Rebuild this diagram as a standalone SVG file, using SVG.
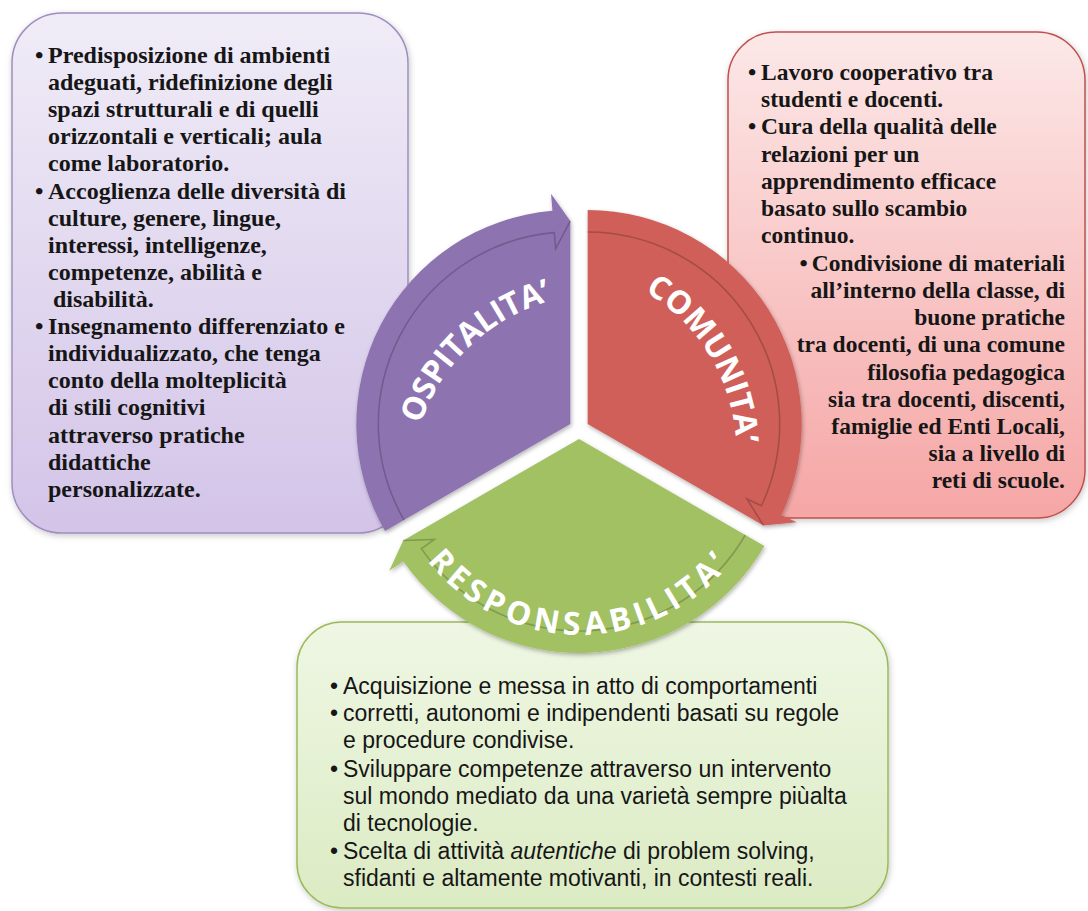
<svg xmlns="http://www.w3.org/2000/svg" width="1088" height="911" viewBox="0 0 1088 911">
<defs>
<style>
.bt{font-family:"Liberation Serif","Times New Roman",serif;font-weight:bold;font-size:24px;fill:#161616}
.rt{font-family:"Liberation Serif","Times New Roman",serif;font-weight:bold;font-size:23.5px;fill:#161616}
.gt{font-family:"Liberation Sans",Arial,sans-serif;font-size:23px;fill:#161616}
.lab{font-family:"Open Sans","DejaVu Sans",sans-serif;font-weight:bold;font-size:32px;fill:#ffffff}
.band{fill:none;stroke:#000;stroke-opacity:0.2;stroke-width:1.6}
</style>
<linearGradient id="gP" x1="0" y1="0" x2="0" y2="1"><stop offset="0" stop-color="#F0ECF7"/><stop offset="1" stop-color="#D3C4E8"/></linearGradient>
<linearGradient id="gR" x1="0" y1="0" x2="0" y2="1"><stop offset="0" stop-color="#FCE8E8"/><stop offset="1" stop-color="#F5A6A5"/></linearGradient>
<linearGradient id="gG" x1="0" y1="0" x2="0" y2="1"><stop offset="0" stop-color="#EFF7E4"/><stop offset="1" stop-color="#DBEBC3"/></linearGradient>
<filter id="bsh" x="-10%" y="-10%" width="120%" height="120%"><feDropShadow dx="1" dy="2" stdDeviation="3" flood-color="#000" flood-opacity="0.22"/></filter>
<filter id="ssh" x="-10%" y="-10%" width="120%" height="120%"><feDropShadow dx="1" dy="2" stdDeviation="2" flood-color="#000" flood-opacity="0.3"/></filter>
<path id="sector" d="M0,0 L-185.33,107 A214,214 0 0 1 -17.91,-213.25 L-19.33,-230.19 L0,-203 Z"/>
<path id="bandline" d="M-166.28,96 A192,192 0 0 1 -16.07,-191.33 L-14.73,-175.38 L0,-203"/>
<path id="pP" d="M412.6,459.2 A190,190 0 0 1 586.1,294.6"/>
<path id="pR" d="M614.3,277.2 A185,185 0 0 1 734.2,476.7"/>
<path id="pG" d="M412,538 A194,194 0 0 0 748,538"/>
</defs>
<rect width="1088" height="911" fill="#ffffff"/>

<g id="box-ospitalita">
<rect x="12" y="13" width="396" height="520" rx="50" fill="url(#gP)" stroke="#9F8EC0" stroke-width="1.5" filter="url(#bsh)"/>
<text class="bt" x="35" y="63">•</text>
<text class="bt" x="48" y="63">Predisposizione di ambienti</text>
<text class="bt" x="48" y="90">adeguati, ridefinizione degli</text>
<text class="bt" x="48" y="117">spazi strutturali e di quelli</text>
<text class="bt" x="48" y="144">orizzontali e verticali; aula</text>
<text class="bt" x="48" y="171">come laboratorio.</text>
<text class="bt" x="35" y="199">•</text>
<text class="bt" x="48" y="199">Accoglienza delle diversità di</text>
<text class="bt" x="48" y="226">culture, genere, lingue,</text>
<text class="bt" x="48" y="253">interessi, intelligenze,</text>
<text class="bt" x="48" y="280">competenze, abilità e</text>
<text class="bt" x="53" y="307">disabilità.</text>
<text class="bt" x="35" y="334">•</text>
<text class="bt" x="48" y="334">Insegnamento differenziato e</text>
<text class="bt" x="48" y="361">individualizzato, che tenga</text>
<text class="bt" x="48" y="388">conto della molteplicità</text>
<text class="bt" x="48" y="415">di stili cognitivi</text>
<text class="bt" x="48" y="443">attraverso pratiche</text>
<text class="bt" x="48" y="470">didattiche</text>
<text class="bt" x="48" y="497">personalizzate.</text>
</g>

<g id="box-comunita">
<rect x="728" y="32" width="357" height="486" rx="48" fill="url(#gR)" stroke="#C0504D" stroke-width="1.5" filter="url(#bsh)"/>
<text class="rt" x="748" y="80">•</text>
<text class="rt" x="761" y="80">Lavoro cooperativo tra</text>
<text class="rt" x="761" y="107">studenti e docenti.</text>
<text class="rt" x="748" y="134">•</text>
<text class="rt" x="761" y="134">Cura della qualità delle</text>
<text class="rt" x="761" y="162">relazioni per un</text>
<text class="rt" x="761" y="189">apprendimento efficace</text>
<text class="rt" x="761" y="216">basato sullo scambio</text>
<text class="rt" x="761" y="243">continuo.</text>
<text class="rt" x="1065" y="271" text-anchor="end">•<tspan dx="4">Condivisione di materiali</tspan></text>
<text class="rt" x="1065" y="298" text-anchor="end">all’interno della classe, di</text>
<text class="rt" x="1065" y="325" text-anchor="end">buone pratiche</text>
<text class="rt" x="1065" y="352" text-anchor="end">tra docenti, di una comune</text>
<text class="rt" x="1065" y="380" text-anchor="end">filosofia pedagogica</text>
<text class="rt" x="1065" y="407" text-anchor="end">sia tra docenti, discenti,</text>
<text class="rt" x="1065" y="434" text-anchor="end">famiglie ed Enti Locali,</text>
<text class="rt" x="1065" y="461" text-anchor="end">sia a livello di</text>
<text class="rt" x="1065" y="488" text-anchor="end">reti di scuole.</text>
</g>

<g id="box-responsabilita">
<rect x="297" y="622" width="591" height="286" rx="45" fill="url(#gG)" stroke="#9BBB59" stroke-width="1.5" filter="url(#bsh)"/>
<text class="gt" x="330" y="694">•</text>
<text class="gt" x="343" y="694">Acquisizione e messa in atto di comportamenti</text>
<text class="gt" x="330" y="721">•</text>
<text class="gt" x="343" y="721">corretti, autonomi e indipendenti basati su regole</text>
<text class="gt" x="343" y="748">e procedure condivise.</text>
<text class="gt" x="330" y="777">•</text>
<text class="gt" x="343" y="777">Sviluppare competenze attraverso un intervento</text>
<text class="gt" x="343" y="804">sul mondo mediato da una varietà sempre piùalta</text>
<text class="gt" x="343" y="831">di tecnologie.</text>
<text class="gt" x="330" y="859">•</text>
<text class="gt" x="343" y="859">Scelta di attività <tspan font-style="italic">autentiche</tspan> di problem solving,</text>
<text class="gt" x="343" y="886">sfidanti e altamente motivanti, in contesti reali.</text>
</g>

<g id="sector-ospitalita">
<g filter="url(#ssh)"><use href="#sector" fill="#8E73B1" transform="translate(579,429) translate(-8.66,-5)"/></g>
<use href="#bandline" class="band" transform="translate(579,429) translate(-8.66,-5)"/>
<text class="lab" letter-spacing="-0.3"><textPath href="#pP" startOffset="50%" text-anchor="middle">OSPITALITA’</textPath></text>
</g>

<g id="sector-comunita">
<g filter="url(#ssh)"><use href="#sector" fill="#CF5F59" transform="translate(579,429) rotate(120) translate(-8.66,-5)"/></g>
<use href="#bandline" class="band" transform="translate(579,429) rotate(120) translate(-8.66,-5)"/>
<text class="lab" letter-spacing="0"><textPath href="#pR" startOffset="50%" text-anchor="middle">COMUNITA’</textPath></text>
</g>

<g id="sector-responsabilita">
<g filter="url(#ssh)"><use href="#sector" fill="#A1C163" transform="translate(579,429) rotate(240) translate(-8.66,-5)"/></g>
<use href="#bandline" class="band" transform="translate(579,429) rotate(240) translate(-8.66,-5)"/>
<text class="lab" letter-spacing="5"><textPath href="#pG" startOffset="50%" text-anchor="middle">RESPONSABILITA’</textPath></text>
</g>

<g id="connectors"/>
</svg>
